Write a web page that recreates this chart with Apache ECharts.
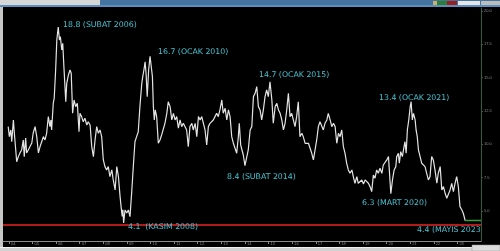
<!DOCTYPE html>
<html>
<head>
<meta charset="utf-8">
<script src="https://cdn.jsdelivr.net/npm/echarts@6/dist/echarts.min.js"></script>
<style>
html,body{margin:0;padding:0;background:#000;}
#c{width:500px;height:251px;}
</style>
</head>
<body>
<div id="c"></div>
<script>
// time in fractional years
const times = [
2003.97,2004.02,2004.08,2004.12,2004.19,2004.23,2004.29,2004.33,2004.40,2004.47,2004.54,2004.61,2004.65,2004.71,2004.75,2004.82,2004.89,2004.97,
2005.03,2005.11,2005.18,2005.25,2005.32,2005.39,2005.46,2005.53,2005.60,2005.67,2005.74,2005.78,2005.81,2005.88,2005.92,2005.98,
2006.03,2006.09,2006.14,2006.18,2006.24,2006.28,2006.33,2006.41,2006.45,2006.52,2006.59,2006.64,2006.70,2006.76,2006.83,2006.90,2006.97,
2007.01,2007.08,2007.15,2007.22,2007.30,2007.36,2007.44,2007.51,2007.58,2007.65,2007.72,2007.79,2007.86,2007.93,
2008.00,2008.07,2008.14,2008.21,2008.28,2008.36,2008.42,2008.50,2008.57,2008.64,2008.71,2008.76,2008.80,2008.83,2008.86,2008.92,2008.99,
2009.06,2009.13,2009.20,2009.27,2009.34,2009.41,2009.48,2009.55,2009.63,2009.67,2009.72,2009.77,2009.81,2009.86,2009.92,2009.98,
2010.03,2010.08,2010.12,2010.16,2010.20,2010.26,2010.33,2010.40,2010.47,2010.54,2010.61,2010.69,2010.75,2010.83,2010.90,2010.97,
2011.04,2011.11,2011.18,2011.25,2011.32,2011.39,2011.46,2011.53,2011.60,2011.67,2011.75,2011.81,2011.89,2011.96,
2012.03,2012.10,2012.17,2012.24,2012.31,2012.38,2012.45,2012.52,2012.59,2012.66,2012.73,2012.80,2012.87,2012.94,
2013.02,2013.08,2013.16,2013.23,2013.30,2013.37,2013.44,2013.51,2013.58,2013.65,2013.72,2013.76,2013.82,2013.88,2013.93,
2014.00,2014.08,2014.14,2014.22,2014.29,2014.36,2014.43,2014.50,2014.57,2014.64,2014.71,2014.78,2014.85,2014.92,2014.99,
2015.06,2015.14,2015.20,2015.28,2015.35,2015.42,2015.49,2015.56,2015.63,2015.70,2015.77,2015.84,2015.91,2015.98,
2016.05,2016.12,2016.19,2016.26,2016.33,2016.41,2016.47,2016.55,2016.62,2016.69,2016.76,2016.83,2016.90,2016.97,
2017.04,2017.11,2017.18,2017.25,2017.32,2017.39,2017.47,2017.53,2017.61,2017.68,2017.75,2017.82,2017.89,2017.96,
2018.03,2018.10,2018.17,2018.24,2018.31,2018.38,2018.45,2018.53,2018.59,2018.66,2018.74,2018.80,2018.88,2018.95,
2019.02,2019.09,2019.16,2019.23,2019.30,2019.37,2019.44,2019.51,2019.58,2019.65,2019.72,2019.80,2019.86,2019.94,
2020.01,2020.08,2020.18,2020.25,2020.32,2020.39,2020.43,2020.50,2020.54,2020.60,2020.67,2020.74,2020.78,2020.83,2020.88,2020.94,
2021.00,2021.04,2021.09,2021.14,2021.21,2021.25,2021.30,2021.35,2021.42,2021.49,2021.56,2021.63,2021.70,2021.77,2021.84,2021.91,2021.98,
2022.05,2022.13,2022.19,2022.27,2022.34,2022.41,2022.48,2022.55,2022.62,2022.69,2022.76,2022.83,2022.90,2022.97,
2023.04,2023.11,2023.19,2023.25,2023.33
];
const values = [
11.33,10.58,11.08,10.20,11.83,10.85,9.58,8.70,9.08,9.36,9.58,10.33,9.08,10.48,9.36,9.58,9.45,10.10,
10.85,11.33,10.58,9.36,9.83,10.20,10.58,10.33,10.85,12.08,11.33,11.83,11.08,13.10,13.48,15.58,
17.83,18.8,17.83,18.08,17.08,17.58,15.83,13.20,14.58,15.20,15.58,15.33,12.33,13.33,12.83,13.08,10.95,
12.33,12.08,11.70,11.96,11.45,11.70,11.45,9.83,9.08,10.33,11.33,10.83,11.08,10.58,
8.83,8.33,8.08,8.33,7.58,8.08,7.33,6.58,8.33,7.58,6.08,5.2,4.6,5.1,4.1,5.08,4.85,
5.08,4.58,6.35,8.33,10.20,10.58,10.95,12.83,14.58,15.08,15.58,16.20,15.33,13.58,15.58,16.6,
16.7,15.08,12.83,11.83,12.58,12.08,10.08,10.33,10.70,10.83,11.58,12.33,13.20,12.83,11.83,12.33,
11.83,12.08,11.21,11.83,11.33,11.58,11.45,11.08,9.83,11.33,11.58,11.08,11.58,10.58,
12.08,11.83,12.08,11.58,11.08,9.95,11.33,11.58,11.45,11.83,12.08,12.33,12.08,12.58,
13.33,12.33,12.71,11.83,12.58,12.08,10.58,10.08,10.20,9.33,10.58,11.58,9.95,9.8,9.2,
8.4,9.08,9.58,11.08,11.33,13.58,13.83,14.33,12.83,12.58,11.83,12.58,13.58,14.08,13.58,
14.7,13.33,11.58,12.83,13.08,12.58,12.33,11.83,11.08,11.58,12.58,13.83,12.08,12.33,
11.83,11.33,12.08,13.20,10.58,10.83,10.58,10.08,10.20,10.08,10.20,9.33,8.83,9.58,
10.33,11.33,11.70,11.58,11.08,11.58,11.83,12.33,11.83,11.33,11.58,11.33,10.08,10.83,
10.58,11.08,9.83,9.33,8.58,8.08,7.83,8.08,7.58,7.08,7.58,7.08,7.03,7.33,
7.03,7.33,7.46,7.08,6.83,6.45,7.70,7.46,8.08,7.83,8.21,7.83,8.45,8.33,
8.83,9.08,6.3,7.33,8.08,8.33,9.08,9.33,8.58,9.45,9.08,9.83,10.20,9.33,11.08,11.83,
12.83,13.2,11.83,12.33,11.83,11.08,10.58,9.58,9.08,8.58,8.70,8.33,7.83,7.33,7.58,9.08,8.83,
8.08,7.08,7.83,8.33,6.58,6.83,6.33,5.96,5.83,6.58,7.08,6.45,7.08,7.58,
6.83,5.33,5.08,4.83,4.28
];
const lastValue = 4.28;
const lastTime = 2023.33;
const axisEnd = 2024.0;
const refLevel = 3.95;
const yTicks = [5, 7.5, 10, 12.5, 15, 17.5, 20];
const xTicks = [2004,2005,2006,2007,2008,2009,2010,2011,2012,2013,2014,2015,2016,2017,2018,2019,2020,2021,2022,2023];
const notes = [
  {text: '18.8 (SUBAT 2006)', x: 63, y: 25},
  {text: '16.7 (OCAK 2010)', x: 158, y: 52},
  {text: '14.7 (OCAK 2015)', x: 259, y: 75},
  {text: '13.4 (OCAK 2021)', x: 379, y: 98},
  {text: '8.4 (SUBAT 2014)', x: 227, y: 177},
  {text: '6.3 (MART 2020)', x: 362, y: 203},
  {text: '4.1  (KASIM 2008)', x: 128, y: 227},
  {text: '4.4 (MAYIS 2023', x: 417, y: 230}
];

const lineData = times.map((t, i) => [t, values[i]]);
const chart = echarts.init(document.getElementById('c'), null, {renderer: 'canvas'});

const chrome = [
  {type:'rect', shape:{x:0,y:0,width:500,height:7}, style:{fill:'#44739f'}, z:-1},
  {type:'rect', shape:{x:0,y:0,width:100,height:5}, style:{fill:'#d6d6d6'}, z:-1},
  {type:'rect', shape:{x:0,y:5,width:500,height:2}, style:{fill:'#5b8fc0'}, z:-1},
  {type:'rect', shape:{x:433,y:1,width:4,height:4}, style:{fill:'#c9b06a'}, z:-1},
  {type:'rect', shape:{x:437,y:1,width:10,height:4}, style:{fill:'#2f7d32'}, z:-1},
  {type:'rect', shape:{x:447,y:1,width:10,height:4}, style:{fill:'#9e1d1d'}, z:-1},
  {type:'rect', shape:{x:458,y:1,width:22,height:4}, style:{fill:'#e6e6e6'}, z:-1},
  {type:'rect', shape:{x:481,y:1,width:19,height:4}, style:{fill:'#bcbcbc'}, z:-1},
  {type:'rect', shape:{x:0,y:7,width:3,height:244}, style:{fill:'#c6c6c6'}, z:-1},
  {type:'rect', shape:{x:0,y:247,width:500,height:4}, style:{fill:'#d2d2d2'}, z:-1},
  {type:'rect', shape:{x:0,y:247,width:500,height:1}, style:{fill:'#f0f0f0'}, z:-1},
  {type:'rect', shape:{x:472,y:245,width:28,height:6}, style:{fill:'#dcdcdc', stroke:'#999', lineWidth:0.5}, z:-1}
];

const noteGraphics = notes.map(n => ({
  type: 'text',
  x: n.x, y: n.y,
  z: 10,
  style: {
    text: n.text,
    fill: '#45c3d2',
    font: '7.8px "DejaVu Sans"',
    textVerticalAlign: 'middle',
    textAlign: 'left'
  }
}));

chart.setOption({
  backgroundColor: '#000',
  animation: false,
  grid: {left: 3, right: 19, top: 8, bottom: 10, containLabel: false},
  xAxis: {
    type: 'value',
    min: 2003.75,
    max: axisEnd,
    axisLine: {show: true, onZero: false, lineStyle: {color: '#8a8a8a', width: 1}},
    axisTick: {show: true, length: 3, customValues: xTicks, lineStyle: {color: '#8a8a8a'}},
    axisLabel: {
      show: true, customValues: xTicks, fontSize: 4, color: '#8a8a8a',
      margin: 1, align: 'left', padding: [0, 0, 0, 2],
      formatter: v => String(Math.round(v)).slice(2)
    },
    splitLine: {show: false}
  },
  yAxis: {
    type: 'value',
    position: 'right',
    min: 2.75,
    max: 20.23,
    axisLine: {show: true, lineStyle: {color: '#2f5e40', width: 1}},
    axisTick: {show: true, length: 2, customValues: yTicks, lineStyle: {color: '#2f5e40'}},
    axisLabel: {
      show: true, customValues: yTicks, fontSize: 4, color: '#8a8a8a', margin: 3,
      formatter: v => v.toFixed(1)
    },
    splitLine: {show: false}
  },
  series: [
    {
      type: 'line',
      data: lineData,
      showSymbol: false,
      symbol: 'none',
      lineStyle: {color: '#e4e4e4', width: 1.2},
      z: 3,
      markLine: {
        silent: true,
        symbol: ['none', 'none'],
        label: {show: false},
        lineStyle: {color: '#b01c1c', width: 2, type: 'solid'},
        data: [{yAxis: refLevel}],
        z: 2
      }
    },
    {
      type: 'line',
      data: [[lastTime, lastValue], [axisEnd, lastValue]],
      showSymbol: false,
      symbol: 'none',
      lineStyle: {color: '#3c9c3c', width: 1.5},
      z: 4
    }
  ],
  graphic: chrome.concat(noteGraphics)
});
</script>
</body>
</html>
